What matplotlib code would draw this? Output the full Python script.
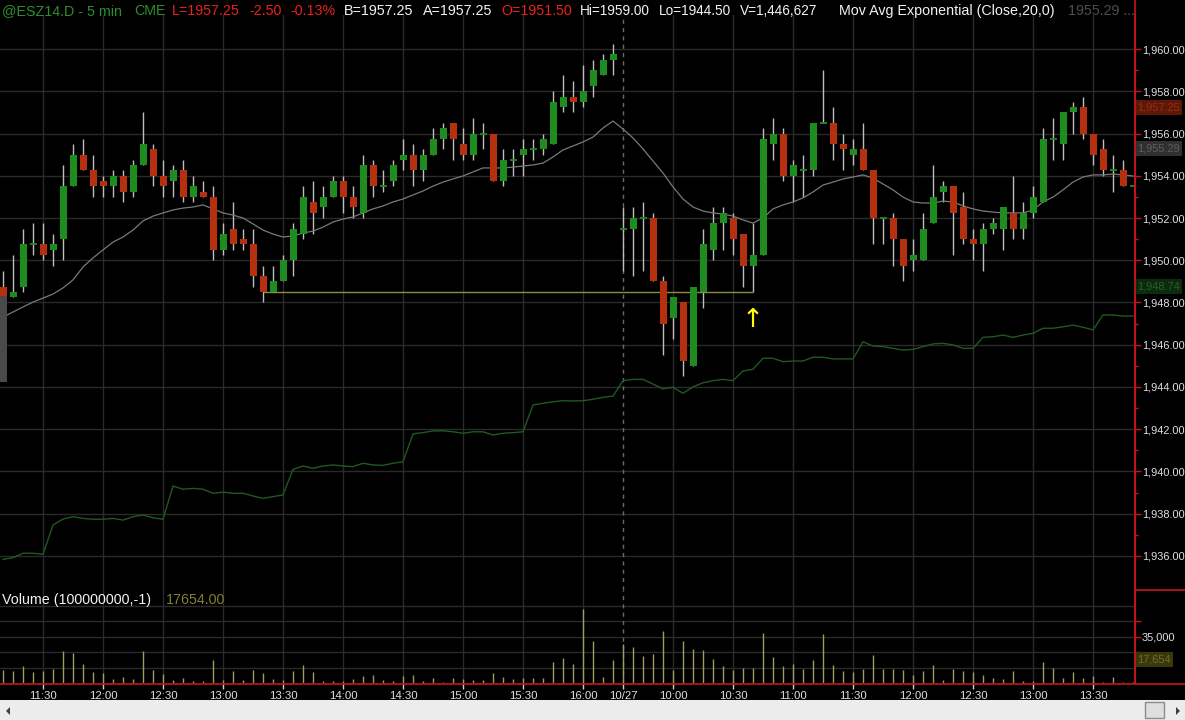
import matplotlib
matplotlib.use('Agg')
import matplotlib.pyplot as plt
import numpy as np
import pandas as pd
from matplotlib.transforms import blended_transform_factory
from matplotlib.patches import Rectangle, Polygon

plt.rcParams['font.family'] = ['Liberation Sans', 'DejaVu Sans']

# ---------------- data ----------------
day1_times = pd.date_range('2014-10-24 11:10', '2014-10-24 16:15', freq='5min')
day2_times = pd.date_range('2014-10-27 09:35', '2014-10-27 13:50', freq='5min')
times = list(day1_times) + list(day2_times)

opens = [1948.75, 1948.25, 1948.75, 1950.75, 1950.75, 1950.5, 1951.0, 1953.5, 1955.0, 1954.25,
         1953.75, 1953.5, 1954.0, 1953.25, 1954.5, 1955.25, 1954.0, 1953.75, 1954.25, 1953.0,
         1953.25, 1953.0, 1950.5, 1951.5, 1951.0, 1950.75, 1949.25, 1948.5, 1949.0, 1950.0,
         1951.25, 1952.75, 1952.5, 1953.0, 1953.75, 1953.0, 1952.25, 1954.5, 1953.5, 1953.75,
         1954.75, 1955.0, 1954.25, 1955.0, 1955.75, 1956.5, 1955.5, 1955.0, 1956.0, 1956.0,
         1953.75, 1954.75, 1955.0, 1955.25, 1955.25, 1955.5, 1957.25, 1957.75, 1957.5, 1958.25,
         1958.75, 1959.5,
         1951.5, 1951.5, 1952.0, 1952.0, 1949.0, 1947.25, 1948.0, 1945.0, 1948.5, 1950.5,
         1951.75, 1952.0, 1951.25, 1949.75, 1950.25, 1955.5, 1956.0, 1954.0, 1954.25, 1954.25,
         1956.5, 1956.5, 1955.5, 1955.0, 1955.25, 1954.25, 1952.0, 1952.0, 1951.0, 1950.0,
         1950.0, 1951.75, 1953.25, 1953.5, 1952.5, 1951.0, 1950.75, 1951.5, 1951.5, 1952.25,
         1951.5, 1952.25, 1952.75, 1955.75, 1955.5, 1957.0, 1957.25, 1956.0, 1955.25, 1954.25,
         1954.25, 1953.5]
highs = [1949.5, 1950.25, 1951.5, 1951.75, 1951.75, 1951.25, 1954.5, 1955.5, 1955.75, 1955.0,
         1954.0, 1954.25, 1954.25, 1954.75, 1957.0, 1955.5, 1954.75, 1954.5, 1954.75, 1954.0,
         1953.75, 1953.5, 1951.75, 1952.75, 1951.5, 1951.5, 1949.75, 1949.75, 1950.25, 1951.75,
         1953.5, 1953.75, 1953.5, 1954.0, 1954.0, 1953.5, 1955.0, 1954.75, 1954.25, 1954.75,
         1955.75, 1955.5, 1955.25, 1956.25, 1956.5, 1956.5, 1956.25, 1956.75, 1956.5, 1956.0,
         1955.25, 1955.25, 1955.75, 1955.75, 1956.0, 1958.0, 1958.75, 1958.5, 1959.25, 1959.5,
         1959.75, 1960.25,
         1952.5, 1952.5, 1952.75, 1952.25, 1949.25, 1948.25, 1948.0, 1948.75, 1951.5, 1952.5,
         1952.5, 1952.25, 1951.25, 1951.75, 1956.25, 1956.75, 1956.25, 1954.75, 1955.0, 1956.5,
         1959.0, 1957.25, 1956.0, 1955.75, 1956.5, 1954.25, 1952.0, 1952.25, 1951.0, 1951.0,
         1952.25, 1954.5, 1953.75, 1953.5, 1953.25, 1951.5, 1951.75, 1952.0, 1952.5, 1954.0,
         1952.75, 1953.5, 1956.25, 1956.75, 1957.0, 1957.5, 1957.75, 1956.0, 1955.75, 1955.0,
         1954.75, 1953.5]
lows = [1948.0, 1948.25, 1948.5, 1950.25, 1950.0, 1949.75, 1950.0, 1953.5, 1954.25, 1953.0,
        1953.0, 1953.0, 1952.75, 1953.0, 1954.5, 1953.5, 1953.0, 1953.0, 1952.75, 1952.75,
        1953.0, 1950.0, 1950.25, 1950.5, 1950.5, 1948.75, 1948.0, 1948.5, 1949.0, 1949.25,
        1951.0, 1951.25, 1952.0, 1953.0, 1952.25, 1952.0, 1952.0, 1953.0, 1953.25, 1953.5,
        1954.25, 1953.5, 1953.75, 1955.0, 1955.25, 1954.75, 1954.75, 1954.75, 1955.25, 1953.75,
        1953.5, 1954.0, 1954.0, 1954.75, 1955.0, 1955.5, 1957.0, 1957.0, 1957.25, 1957.75,
        1958.75, 1958.75,
        1949.5, 1949.25, 1949.5, 1949.0, 1945.5, 1946.25, 1944.5, 1945.0, 1947.75, 1950.0,
        1950.5, 1950.25, 1948.75, 1948.5, 1950.25, 1954.75, 1953.75, 1952.75, 1953.0, 1954.0,
        1956.5, 1954.75, 1954.25, 1954.5, 1954.25, 1950.75, 1950.75, 1949.75, 1949.0, 1949.5,
        1950.0, 1951.75, 1952.75, 1950.25, 1950.75, 1950.0, 1949.5, 1951.25, 1950.5, 1951.0,
        1951.0, 1952.0, 1952.75, 1954.75, 1954.75, 1956.0, 1955.75, 1954.5, 1954.0, 1953.25,
        1953.5, 1953.5]
closes = [1948.25, 1948.5, 1950.75, 1950.75, 1950.25, 1950.75, 1953.5, 1955.0, 1954.25, 1953.5,
          1953.5, 1954.0, 1953.25, 1954.5, 1955.5, 1954.0, 1953.5, 1954.25, 1953.0, 1953.5,
          1953.0, 1950.5, 1951.25, 1950.75, 1950.75, 1949.25, 1948.5, 1949.0, 1950.0, 1951.5,
          1953.0, 1952.25, 1953.0, 1953.75, 1953.0, 1952.5, 1954.5, 1953.5, 1953.5, 1954.5,
          1955.0, 1954.25, 1955.0, 1955.75, 1956.25, 1955.75, 1955.0, 1956.0, 1956.0, 1953.75,
          1954.75, 1954.75, 1955.25, 1955.25, 1955.75, 1957.5, 1957.75, 1957.5, 1958.0, 1959.0,
          1959.5, 1959.75,
          1951.5, 1952.0, 1952.0, 1949.0, 1947.0, 1948.25, 1945.25, 1948.75, 1950.75, 1951.75,
          1952.25, 1951.0, 1949.75, 1950.25, 1955.75, 1956.0, 1954.0, 1954.5, 1954.25, 1956.5,
          1956.5, 1955.5, 1955.25, 1955.25, 1954.25, 1952.0, 1952.0, 1951.0, 1949.75, 1950.25,
          1951.5, 1953.0, 1953.5, 1952.25, 1951.0, 1950.75, 1951.5, 1951.75, 1952.5, 1951.5,
          1952.25, 1953.0, 1955.75, 1955.75, 1957.0, 1957.25, 1956.0, 1955.0, 1954.25, 1954.25,
          1953.5, 1953.5]
volumes = [10050, 9300, 13080, 8540, 9300, 10810, 24420, 22400, 14590, 8540,
           7790, 3250, 4760, 3250, 24420, 10050, 7030, 2490, 4010, 1740,
           1740, 17610, 2490, 9300, 2490, 10050, 7790, 3250, 2490, 9300,
           13830, 8540, 1230, 1740, 1230, 3250, 5520, 6270, 2490, 1740,
           5520, 6270, 1740, 4010, 980, 4010, 3250, 2490, 2490, 7790,
           4760, 3250, 4010, 4010, 4010, 16100, 19130, 14590, 56170, 31980,
           4760, 17610,
           29460, 27440, 20640, 22150, 39540, 10050, 31980, 25930, 25170, 18370,
           13080, 10050, 11570, 11570, 37520, 19880, 13080, 14590, 10810, 17610,
           37270, 13830, 9300, 8540, 10810, 21390, 10810, 10810, 10050, 6270,
           9300, 13830, 2490, 10810, 9300, 8540, 6270, 4010, 3250, 9300,
           1740, 1740, 16100, 11570, 4010, 8540, 4010, 5520, 980, 4760,
           980, 800]
ema20 = [1947.31, 1947.55, 1947.79, 1948.02, 1948.21, 1948.40, 1948.69, 1949.07, 1949.68, 1950.11,
         1950.49, 1950.86, 1951.10, 1951.43, 1951.86, 1952.09, 1952.24, 1952.38, 1952.47, 1952.52,
         1952.62, 1952.43, 1952.24, 1952.14, 1952.00, 1951.72, 1951.43, 1951.24, 1951.10, 1951.15,
         1951.29, 1951.38, 1951.57, 1951.81, 1951.95, 1952.05, 1952.24, 1952.43, 1952.57, 1952.76,
         1952.90, 1953.09, 1953.28, 1953.51, 1953.70, 1953.85, 1953.99, 1954.18, 1954.37, 1954.37,
         1954.37, 1954.41, 1954.46, 1954.51, 1954.60, 1954.89, 1955.22, 1955.41, 1955.60, 1955.83,
         1956.26, 1956.59,
         1956.21, 1955.79, 1955.27, 1954.70, 1954.13, 1953.47, 1952.90, 1952.52, 1952.33, 1952.24,
         1952.19, 1952.09, 1951.91, 1951.76, 1952.00, 1952.43, 1952.62, 1952.76, 1952.95, 1953.23,
         1953.56, 1953.70, 1953.85, 1953.94, 1954.04, 1953.89, 1953.61, 1953.33, 1952.99, 1952.76,
         1952.71, 1952.71, 1952.80, 1952.76, 1952.57, 1952.43, 1952.33, 1952.28, 1952.24, 1952.24,
         1952.24, 1952.38, 1952.76, 1952.99, 1953.33, 1953.70, 1953.94, 1954.04, 1954.04, 1954.08,
         1954.04, 1953.99]
indicator = [1935.84, 1935.92, 1936.13, 1936.13, 1936.08, 1937.47, 1937.75, 1937.86, 1937.78, 1937.74,
             1937.74, 1937.78, 1937.70, 1937.86, 1937.94, 1937.81, 1937.74, 1939.31, 1939.16, 1939.20,
             1939.16, 1938.97, 1939.02, 1938.97, 1938.97, 1938.84, 1938.73, 1938.81, 1938.89, 1940.10,
             1940.26, 1940.15, 1940.26, 1940.31, 1940.26, 1940.23, 1940.39, 1940.31, 1940.29, 1940.39,
             1940.46, 1941.78, 1941.84, 1941.92, 1941.93, 1941.88, 1941.81, 1941.88, 1941.88, 1941.73,
             1941.81, 1941.84, 1941.88, 1943.15, 1943.23, 1943.30, 1943.35, 1943.34, 1943.35, 1943.42,
             1943.51, 1943.57,
             1944.30, 1944.36, 1944.36, 1944.14, 1943.91, 1943.99, 1943.70, 1944.01, 1944.20, 1944.30,
             1944.36, 1944.30, 1944.76, 1944.84, 1945.36, 1945.36, 1945.20, 1945.23, 1945.23, 1945.41,
             1945.41, 1945.33, 1945.33, 1945.33, 1946.14, 1945.94, 1945.91, 1945.83, 1945.75, 1945.78,
             1945.91, 1946.04, 1946.07, 1945.99, 1945.83, 1945.83, 1946.35, 1946.38, 1946.46, 1946.35,
             1946.46, 1946.54, 1946.78, 1946.78, 1946.85, 1946.93, 1946.83, 1946.70, 1947.41, 1947.41,
             1947.36, 1947.36]

price_ticks = [1936, 1938, 1940, 1942, 1944, 1946, 1948, 1950, 1952, 1954, 1956, 1958, 1960]
support_level = 1948.5
support_from, support_to = 26, 75      # bar indices
arrow_bar, arrow_price = 75, 1947.15
last_price, ema_last, line_value = 1957.25, 1955.29, 1948.74
volume_last = 17654
volume_tick = 35000

# ---------------- figure ----------------
W, H = 1185, 720
BG = 'black'
GRID = '#2a2a2a'
RED_AX = '#c8141e'
GREEN = '#1e8c1e'
RED = '#b5300f'
TXT = '#e0e0e0'
AXFS = 7.9

fig = plt.figure(figsize=(W / 100, H / 100), dpi=100, facecolor=BG)

def fr(x0, y0, x1, y1):
    return [x0 / W, 1 - y1 / H, (x1 - x0) / W, (y1 - y0) / H]

ax = fig.add_axes(fr(0, 15, 1135, 590))
axv = fig.add_axes(fr(0, 590, 1135, 683))
k = np.arange(len(times))
n1 = len(day1_times)

for a in (ax, axv):
    a.set_facecolor(BG)
    a.set_xlim(-0.3, 113.2)
    for s in ('top', 'left', 'bottom'):
        a.spines[s].set_visible(False)
    a.spines['right'].set_color(RED_AX)
    a.spines['right'].set_linewidth(1.2)

ax.set_ylim(1934.39, 1961.61)
axv.set_ylim(0, 70300)

# x ticks
tick_pos, tick_lab = [], []
for i, t in enumerate(times):
    if i == n1:
        tick_pos.append(i); tick_lab.append(t.strftime('%m/%d'))
    elif t.minute % 30 == 0:
        tick_pos.append(i); tick_lab.append(t.strftime('%H:%M'))

for p in tick_pos:
    if p == n1:
        continue
    ax.axvline(p, color=GRID, lw=1, zorder=0)
    axv.axvline(p, color=GRID, lw=1, zorder=0)
for a in (ax, axv):
    a.axvline(n1, color='#6a6a6a', lw=1, ls=(0, (3, 3)), zorder=0.5)

for y in price_ticks:
    ax.axhline(y, color=GRID, lw=1, zorder=0)
for v in [volume_tick / 3 * m for m in (1, 2, 3, 4, 5)]:
    axv.axhline(v, color=GRID, lw=1, zorder=0)

# candles
o = np.array(opens); h = np.array(highs); l = np.array(lows); c = np.array(closes)
ax.vlines(k, l, h, color='#bdbdbd', lw=1, zorder=2)
body = c != o
cols = np.where(c > o, GREEN, RED)
ax.bar(k[body], np.abs(c - o)[body], bottom=np.minimum(o, c)[body], width=0.7,
       color=cols[body], linewidth=0, zorder=3)
ax.hlines(c[~body], k[~body] - 0.35, k[~body] + 0.35, color=GREEN, lw=1.3, zorder=3)

ax.plot(k, ema20, color='#7a7a7a', lw=0.9, zorder=2.5)
ax.plot(k, indicator, color='#1f5a1f', lw=1, zorder=2.5)
ax.hlines(support_level, support_from, support_to, color='#8f8f38', lw=1, zorder=2.6)
ax.text(arrow_bar, arrow_price, '\u2191', color='#ffff00', fontsize=19,
        ha='center', va='center', family='DejaVu Sans', zorder=4)

# price axis (right)
ax.yaxis.tick_right()
ax.set_yticks(price_ticks)
ax.set_yticklabels([f'{v:,.2f}' for v in price_ticks])
ax.set_yticks([v + 1 for v in price_ticks[:-1]], minor=True)
ax.tick_params(axis='y', which='major', colors=RED_AX, labelcolor=TXT, labelsize=AXFS,
               length=4, width=1, pad=1)
ax.tick_params(axis='y', which='minor', colors=RED_AX, length=2, width=1)
ax.set_xticks([])

# volume
axv.vlines(k, 0, volumes, color='#9d9d62', lw=1, zorder=2)
axv.yaxis.tick_right()
axv.set_yticks([volume_tick * 2 / 3, volume_tick, volume_tick * 4 / 3])
axv.set_yticklabels(['', f'{volume_tick:,}', ''])
axv.tick_params(axis='y', colors=RED_AX, labelcolor=TXT, labelsize=AXFS, length=4, width=1, pad=1)
axv.set_xticks(tick_pos)
axv.set_xticklabels(tick_lab)
axv.tick_params(axis='x', colors='#cfcfcf', labelcolor=TXT, labelsize=8.2, length=4, width=1, pad=2)

# right-axis value boxes
tr = blended_transform_factory(ax.transAxes, ax.transData)
def vbox(a, trans, val, text, fc, tc):
    a.text(1.0015, val, text, transform=trans, ha='left', va='center', fontsize=AXFS,
           color=tc, clip_on=False, zorder=6,
           bbox=dict(boxstyle='square,pad=0.22', fc=fc, ec='none'))
vbox(ax, tr, last_price, f'{last_price:,.2f}', '#5e1808', '#9c2c12')
vbox(ax, tr, ema_last, f'{ema_last:,.2f}', '#303030', '#5e5e5e')
vbox(ax, tr, line_value, f'{line_value:,.2f}', '#0c2a0c', '#2c5c2c')
trv = blended_transform_factory(axv.transAxes, axv.transData)
vbox(axv, trv, volume_last, f'{volume_last:,}', '#38380c', '#6e6e2a')

# overlay for header, borders and scroll bar
ov = fig.add_axes([0, 0, 1, 1], zorder=10)
ov.set_xlim(0, W); ov.set_ylim(H, 0); ov.axis('off'); ov.patch.set_alpha(0)

ov.plot([1135, 1135], [0, 683], color=RED_AX, lw=1.2)
ov.plot([0, W], [683.5, 683.5], color=RED_AX, lw=1.2)
ov.plot([1135, W], [590, 590], color=RED_AX, lw=1.2)

hdr_green, hdr_red, hdr_white, hdr_gray = '#2e8e2e', '#e8221c', '#f2f2f2', '#4e4e4e'
header = [
    (2, '@ESZ14.D - 5 min', hdr_green, 10.3),
    (134, 'CME', hdr_green, 10.3),
    (172, 'L=1957.25', hdr_red, 10.3),
    (249, '-2.50', hdr_red, 10.3),
    (290, '-0.13%', hdr_red, 10.3),
    (344, 'B=1957.25', hdr_white, 10.3),
    (423, 'A=1957.25', hdr_white, 10.3),
    (501, 'O=1951.50', hdr_red, 10.3),
    (580, 'Hi=1959.00', hdr_white, 9.8),
    (659, 'Lo=1944.50', hdr_white, 9.8),
    (740, 'V=1,446,627', hdr_white, 9.8),
    (839, 'Mov Avg Exponential (Close,20,0)', hdr_white, 10.3),
    (1068, '1955.29 ...', hdr_gray, 10.3),
]
for x, s, col, fs in header:
    ov.text(x, 11, s, color=col, fontsize=fs, ha='left', va='center')

ov.text(2, 600, 'Volume (100000000,-1)', color=hdr_white, fontsize=10.3, ha='left', va='center')
ov.text(166, 600, '17654.00', color='#80802e', fontsize=10.3, ha='left', va='center')

# left edge tab
ov.add_patch(Rectangle((0, 296), 7, 86, fc='#4a4a4a', ec='none'))

# scroll bar
ov.add_patch(Rectangle((0, 700), W, 20, fc='#ececec', ec='none'))
ov.add_patch(Polygon([[10, 707], [10, 715], [6, 711]], closed=True, fc='#404040', ec='none'))
ov.add_patch(Rectangle((1145, 702), 19, 16, fc='#dedede', ec='#8c8c8c', lw=1))
ov.add_patch(Polygon([[1176, 707], [1176, 715], [1180, 711]], closed=True, fc='#404040', ec='none'))

fig.savefig('out.png', dpi=100, facecolor=BG)
